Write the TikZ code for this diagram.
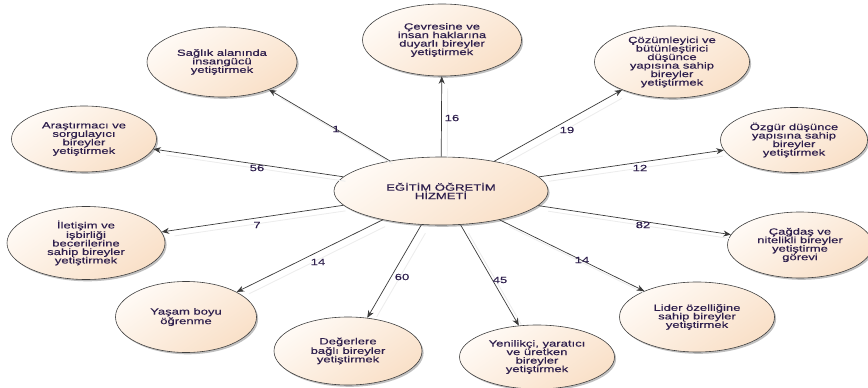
\documentclass[tikz,border=0pt]{standalone}
\usepackage{fontspec}
\newfontfamily\dfont[FakeStretch=1.45,FakeBold=0.4]{Liberation Sans}
\usetikzlibrary{shapes.geometric,arrows.meta,shadows}
\definecolor{peach}{HTML}{F9E0C8}
\definecolor{peachlt}{HTML}{FFFAF5}
\definecolor{txt}{HTML}{2E1F4D}
\definecolor{edgec}{HTML}{3A3A3A}
\begin{document}
\begin{tikzpicture}[x=1pt,y=-1pt,
  bub/.style={ellipse, draw=black!75, line width=0.6pt,
    top color=peachlt, bottom color=peach, shading angle=35,
    inner sep=0pt, align=center, text=txt,
    font=\dfont\fontsize{9}{8.5}\selectfont,
    drop shadow={shadow xshift=1.6pt, shadow yshift=-1.8pt, fill=black, opacity=0.25}},
  lab/.style={text=txt, inner sep=0pt, font=\dfont\fontsize{9}{9}\selectfont},
  arr/.style={draw=edgec, line width=0.7pt, -{Stealth[length=7.5pt,width=6pt]}},
  arrsh/.style={draw=black!7, line width=0.9pt, shorten >=7pt, shorten <=4pt,
    transform canvas={xshift=6pt,yshift=-5pt}}
]
\useasboundingbox (0,0) rectangle (868,388);

\node[bub, minimum width=214pt, minimum height=68pt] (c) at (441,191) {EĞİTİM ÖĞRETİM\\HİZMETİ};

\node[bub, minimum width=150pt, minimum height=70pt] (sag) at (222,62) {Sağlık alanında\\insangücü\\yetiştirmek};
\node[bub, minimum width=159pt, minimum height=72pt] (cev) at (442,40) {Çevresine ve\\insan haklarına\\duyarlı bireyler\\yetiştirmek};
\node[bub, minimum width=155pt, minimum height=71pt] (coz) at (672,62) {Çözümleyici ve\\bütünleştirici\\düşünce\\yapısına sahip\\bireyler\\yetiştirmek};
\node[bub, minimum width=147pt, minimum height=65pt] (ozg) at (794,140) {Özgür düşünce\\yapısına sahip\\bireyler\\yetiştirmek};
\node[bub, minimum width=145pt, minimum height=66pt] (cag) at (800,245) {Çağdaş ve\\nitelikli bireyler\\yetiştirme\\görevi};
\node[bub, minimum width=155pt, minimum height=70pt] (lid) at (697,317) {Lider özelliğine\\sahip bireyler\\yetiştirmek};
\node[bub, minimum width=155pt, minimum height=64pt] (yen) at (537,357) {Yenilikçi, yaratıcı\\ve üretken\\bireyler\\yetiştirmek};
\node[bub, minimum width=148pt, minimum height=68pt] (deg) at (348,351) {Değerlere\\bağlı bireyler\\yetiştirmek};
\node[bub, minimum width=141pt, minimum height=71pt] (yas) at (186,317) {Yaşam boyu\\öğrenme};
\node[bub, minimum width=158pt, minimum height=73pt] (ile) at (86,243) {İletişim ve\\işbirliği\\becerilerine\\sahip bireyler\\yetiştirmek};
\node[bub, minimum width=145pt, minimum height=66pt] (ara) at (84,139) {Araştırmacı ve\\sorgulayıcı\\bireyler\\yetiştirmek};

\foreach \t in {sag,cev,coz,ozg,cag,lid,yen,deg,yas,ile,ara}{
  \draw[arrsh] (c) -- (\t);
}
\foreach \t in {sag,cev,coz,ozg,cag,lid,yen,deg,yas,ile,ara}{
  \draw[arr] (c) -- (\t);
}

\node[lab] (l1) at (336,129) {1};
\node[lab] (l16) at (452,118) {16};
\node[lab] (l19) at (567,130) {19};
\node[lab] (l12) at (640,168) {12};
\node[lab] (l82) at (643,225) {82};
\node[lab] (l14a) at (582,260) {14};
\node[lab] (l45) at (500,280) {45};
\node[lab] (l60) at (402,277) {60};
\node[lab] (l14b) at (318,262) {14};
\node[lab] (l7) at (257,225) {7};
\node[lab] (l56) at (257,168) {56};
\end{tikzpicture}
\end{document}
